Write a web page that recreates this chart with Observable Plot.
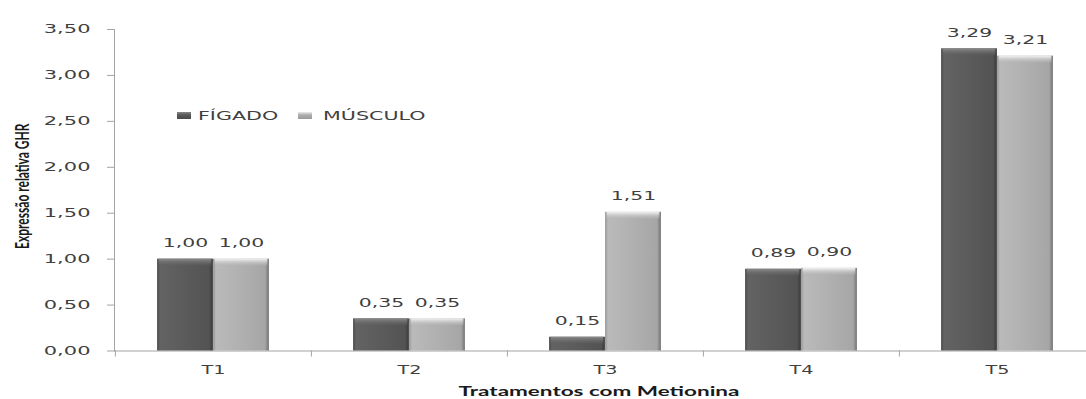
<!DOCTYPE html>
<html>
<head>
<meta charset="utf-8">
<script src="https://cdn.jsdelivr.net/npm/d3@7"></script>
<script src="https://cdn.jsdelivr.net/npm/@observablehq/plot@0.6"></script>
<style>
  body { margin: 0; background: #fff; }
  #chart { position: relative; width: 1086px; height: 399px; overflow: hidden; }
  #chart svg rect.bar { filter: drop-shadow(2px 1px 1.5px rgba(0,0,0,0.28)); }
  .swatch { position: absolute; width: 14px; height: 7px; }
  .swatch.dark { background: linear-gradient(#8a8a8a, #5a5a5a 40%, #4a4a4a); }
  .swatch.light { background: linear-gradient(#eeeeee, #b0b0b0 40%, #9a9a9a); }
  .legend-text { position: absolute; font: 12px "DejaVu Sans"; line-height: 12px; color: #404040;
                 transform: scaleX(1.72); transform-origin: 0 50%; white-space: nowrap; }
</style>
</head>
<body>
<div id="chart"></div>
<script>
// Relative GHR expression per methionine treatment, liver vs muscle
const categories = ["T1", "T2", "T3", "T4", "T5"];
const seriesNames = ["FÍGADO", "MÚSCULO"];
const figado = [1.00, 0.35, 0.15, 0.89, 3.29];
const musculo = [1.00, 0.35, 1.51, 0.90, 3.21];
const yTicks = [0, 0.5, 1, 1.5, 2, 2.5, 3, 3.5];
const xTitle = "Tratamentos com Metionina";
const yTitle = "Expressão relativa GHR";

const rows = categories.flatMap((c, i) => [
  {cat: c, series: seriesNames[0], value: figado[i]},
  {cat: c, series: seriesNames[1], value: musculo[i]}
]);
const dark = rows.filter(d => d.series === seriesNames[0]);
const light = rows.filter(d => d.series === seriesNames[1]);

const W = 1086, H = 399, mL = 114, mR = -9, mT = 29, mB = 48.5;
const band = (W - mR - mL) / categories.length;
const barW = 56;
const inNear = band / 2 - barW, inFar = band / 2;
const fmt = v => v.toFixed(2).replace(".", ",");
const axisGray = "#a3a3a3";
const ink = "#404040";

const plot = Plot.plot({
  width: W, height: H,
  marginLeft: mL, marginRight: mR, marginTop: mT, marginBottom: mB,
  style: {background: "transparent", fontFamily: "DejaVu Sans", fontSize: "12px", color: ink, overflow: "hidden"},
  x: {type: "band", domain: categories, padding: 0},
  y: {domain: [0, 3.5]},
  marks: [
    Plot.axisY({ticks: yTicks, tickFormat: fmt, tickSize: 7, tickPadding: 17, stroke: axisGray, fill: ink, fontSize: 12, label: null}),
    Plot.frame({anchor: "left", stroke: axisGray}),
    // tick marks sit on the boundaries between treatments
    Plot.axisX({tickSize: 6, tickFormat: () => "", dx: -band / 2, stroke: axisGray, label: null}),
    Plot.axisX({tickSize: 0, tickPadding: 14, fill: ink, fontSize: 12, label: null}),
    Plot.ruleY([0], {stroke: axisGray}),
    Plot.barY(dark, {x: "cat", y: "value", fill: "url(#fillDark)", insetLeft: inNear, insetRight: inFar}),
    Plot.barY(light, {x: "cat", y: "value", fill: "url(#fillLight)", insetLeft: inFar, insetRight: inNear}),
    Plot.barY(dark, {x: "cat", y1: "value", y2: "value", fill: "url(#bevelDark)", insetLeft: inNear + 1.5, insetRight: inFar + 1.5, insetBottom: -7}),
    Plot.barY(light, {x: "cat", y1: "value", y2: "value", fill: "url(#bevelLight)", insetLeft: inFar + 1.5, insetRight: inNear + 1.5, insetBottom: -7}),
    Plot.text(dark, {x: "cat", y: "value", text: d => fmt(d.value), dx: -barW / 2, dy: -16, fill: ink, fontSize: 12}),
    Plot.text(light, {x: "cat", y: "value", text: d => fmt(d.value), dx: barW / 2, dy: -16, fill: ink, fontSize: 12}),
    Plot.text([xTitle], {frameAnchor: "bottom", lineAnchor: "middle", dy: 41, dx: -6, fontFamily: "Lato", fontWeight: "bold", fontSize: 12.5, fill: "#1a1a1a"}),
    Plot.text([yTitle], {frameAnchor: "left", textAnchor: "middle", rotate: -90, dx: -92, dy: -4, fontFamily: "Lato", fontWeight: "bold", fontSize: 12, fill: "#1a1a1a"})
  ]
});

// gradients for the bevelled bars
const defs = document.createElementNS("http://www.w3.org/2000/svg", "defs");
defs.innerHTML = `
  <linearGradient id="fillDark" x1="0" x2="1" y1="0" y2="0">
    <stop offset="0" stop-color="#474747"/><stop offset="0.05" stop-color="#636363"/>
    <stop offset="0.5" stop-color="#5b5b5b"/><stop offset="0.93" stop-color="#535353"/>
    <stop offset="1" stop-color="#393939"/>
  </linearGradient>
  <linearGradient id="fillLight" x1="0" x2="1" y1="0" y2="0">
    <stop offset="0" stop-color="#929292"/><stop offset="0.05" stop-color="#bababa"/>
    <stop offset="0.5" stop-color="#b0b0b0"/><stop offset="0.93" stop-color="#a6a6a6"/>
    <stop offset="1" stop-color="#727272"/>
  </linearGradient>
  <linearGradient id="bevelDark" x1="0" x2="0" y1="0" y2="1">
    <stop offset="0" stop-color="#8c8c8c"/><stop offset="1" stop-color="#5e5e5e" stop-opacity="0.3"/>
  </linearGradient>
  <linearGradient id="bevelLight" x1="0" x2="0" y1="0" y2="1">
    <stop offset="0" stop-color="#f4f4f4"/><stop offset="1" stop-color="#b4b4b4" stop-opacity="0.3"/>
  </linearGradient>`;
plot.insertBefore(defs, plot.firstChild);

// shadow only on the main bar rectangles
plot.querySelectorAll('rect[fill^="url(#fill"]').forEach(r => r.classList.add("bar"));

// wide lettering: stretch each text around its anchor
function stretchText(t, sx, sy) {
  const x = +t.getAttribute("x") || 0, y = +t.getAttribute("y") || 0;
  const tr = t.getAttribute("transform") || "";
  t.setAttribute("transform", `${tr} translate(${x},${y}) scale(${sx},${sy}) translate(${-x},${-y})`);
}
plot.querySelectorAll('g[aria-label="y-axis tick label"] text').forEach(t => stretchText(t, 1.75, 1));
plot.querySelectorAll('g[aria-label="x-axis tick label"] text').forEach(t => stretchText(t, 1.6, 1));
plot.querySelectorAll('g[aria-label="text"] text').forEach(t => {
  const s = t.textContent;
  if (s === xTitle) stretchText(t, 1.8, 1);
  else if (s === yTitle) stretchText(t, 1, 1.6);
  else stretchText(t, 1.7, 1);
});

const chart = document.getElementById("chart");
chart.appendChild(plot);

// legend
const legendItems = [
  {cls: "dark", swatchX: 177, textX: 198},
  {cls: "light", swatchX: 298, textX: 323}
];
seriesNames.forEach((name, i) => {
  const it = legendItems[i];
  const sw = document.createElement("div");
  sw.className = "swatch " + it.cls;
  sw.style.left = it.swatchX + "px";
  sw.style.top = "112px";
  const tx = document.createElement("div");
  tx.className = "legend-text";
  tx.style.left = it.textX + "px";
  tx.style.top = "110px";
  tx.textContent = name;
  chart.appendChild(sw);
  chart.appendChild(tx);
});
</script>
</body>
</html>
